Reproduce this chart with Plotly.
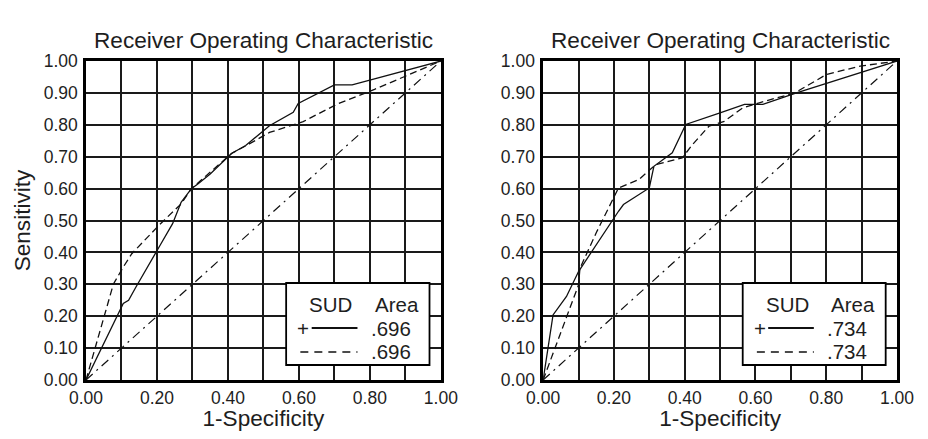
import plotly.graph_objects as go

# ---- data ----
left_solid_x = [0, 0.105, 0.12, 0.14, 0.206, 0.244, 0.268, 0.297, 0.316, 0.35, 0.41, 0.45, 0.517, 0.584, 0.598, 0.70, 0.75, 1.0]
left_solid_y = [0, 0.24, 0.25, 0.29, 0.417, 0.49, 0.557, 0.60, 0.615, 0.646, 0.71, 0.735, 0.797, 0.839, 0.867, 0.925, 0.925, 1.0]
left_dash_x = [0, 0.077, 0.105, 0.129, 0.21, 0.268, 0.297, 0.41, 0.46, 0.517, 0.612, 0.708, 0.813, 1.0]
left_dash_y = [0, 0.30, 0.354, 0.396, 0.49, 0.552, 0.60, 0.71, 0.74, 0.776, 0.81, 0.865, 0.911, 1.0]

right_solid_x = [0, 0.028, 0.066, 0.10, 0.213, 0.227, 0.30, 0.313, 0.365, 0.403, 0.502, 0.569, 0.621, 0.716, 1.0]
right_solid_y = [0, 0.204, 0.262, 0.34, 0.529, 0.55, 0.602, 0.67, 0.712, 0.801, 0.838, 0.864, 0.864, 0.90, 1.0]
right_dash_x = [0, 0.10, 0.104, 0.152, 0.213, 0.27, 0.318, 0.393, 0.422, 0.469, 0.512, 0.564, 0.611, 0.711, 0.801, 0.896, 1.0]
right_dash_y = [0, 0.298, 0.35, 0.466, 0.602, 0.628, 0.675, 0.696, 0.738, 0.796, 0.811, 0.853, 0.869, 0.90, 0.958, 0.984, 1.0]

ref_x = [0, 1]
ref_y = [0, 1]

area_labels = [".696", ".734"]
title_text = "Receiver Operating Characteristic"
x_title = "1-Specificity"
y_title = "Sensitivity"
y_ticks = [i / 10 for i in range(11)]
x_ticks = [i / 5 for i in range(6)]

FONT = "Liberation Sans, Arial, sans-serif"
INK = "#111111"
TXT = "#1e1e1e"

fig = go.Figure()

panels = [
    ("x", "y", left_solid_x, left_solid_y, left_dash_x, left_dash_y),
    ("x2", "y2", right_solid_x, right_solid_y, right_dash_x, right_dash_y),
]
for xa, ya, sx, sy, dx, dy in panels:
    fig.add_trace(go.Scatter(x=ref_x, y=ref_y, xaxis=xa, yaxis=ya, mode="lines",
                             line=dict(color=INK, width=1.2, dash="9px,5px,2px,5px"),
                             showlegend=False, hoverinfo="skip"))
    fig.add_trace(go.Scatter(x=dx, y=dy, xaxis=xa, yaxis=ya, mode="lines",
                             line=dict(color=INK, width=1.3, dash="7px,4px"),
                             showlegend=False))
    fig.add_trace(go.Scatter(x=sx, y=sy, xaxis=xa, yaxis=ya, mode="lines",
                             line=dict(color=INK, width=1.3),
                             showlegend=False))

axis_common = dict(range=[0, 1], showgrid=True, gridcolor="#1a1a1a", gridwidth=1.5,
                   showline=True, linecolor="#000000", linewidth=2.5, mirror=True,
                   zeroline=False, ticks="", tickformat=".2f", automargin=False,
                   tickfont=dict(family=FONT, size=17.5, color=TXT))

# figure is placed at an 8px body offset inside the 928x439 window
W, H = 912, 423
ml, mt = 78, 53
plot_right = 889.3
plot_bottom = 372
mr = W - plot_right
mb = H - plot_bottom
pw = W - ml - mr
ph = H - mt - mb

def px_to_paper_x(px):
    return (px - ml) / pw

def py_to_paper_y(py):
    return (H - mb - py) / ph

d1 = [0, px_to_paper_x(433)]
d2 = [px_to_paper_x(535.3), 1.0]

TS = 22.6
fig.update_layout(
    width=W, height=H,
    margin=dict(l=ml, r=mr, t=mt, b=mb, autoexpand=False),
    paper_bgcolor="#ffffff",
    plot_bgcolor="#ffffff",
    font=dict(family=FONT, color=TXT),
    xaxis=dict(domain=d1, tickvals=x_ticks, minor=dict(dtick=0.1, showgrid=True, gridcolor="#1a1a1a", gridwidth=1.5),
               title=dict(text=x_title, font=dict(size=TS), standoff=14), anchor="y", **axis_common),
    yaxis=dict(domain=[0, 1], tickvals=y_ticks, anchor="x", ticklabelstandoff=2,
               title=dict(text=y_title, font=dict(size=TS), standoff=7), **axis_common),
    xaxis2=dict(domain=d2, tickvals=x_ticks, minor=dict(dtick=0.1, showgrid=True, gridcolor="#1a1a1a", gridwidth=1.5),
                title=dict(text=x_title, font=dict(size=TS), standoff=14), anchor="y2", **axis_common),
    yaxis2=dict(domain=[0, 1], tickvals=y_ticks, anchor="x2", ticklabelstandoff=2, **axis_common),
)

shapes = []
annotations = []

for i, (xa, ya) in enumerate([("x", "y"), ("x2", "y2")]):
    dom = d1 if i == 0 else d2
    annotations.append(dict(text=title_text, xref="paper", yref="paper",
                            x=(dom[0] + dom[1]) / 2, y=py_to_paper_y(33), xanchor="center", yanchor="middle",
                            showarrow=False, font=dict(family=FONT, size=TS, color=TXT)))
    shapes.append(dict(type="rect", xref=xa, yref=ya, layer="above",
                       x0=0.564, x1=0.968, y0=0.047, y1=0.304,
                       fillcolor="#ffffff", line=dict(color="#000000", width=1.8)))
    shapes.append(dict(type="line", xref=xa, yref=ya, layer="above",
                       x0=0.636, x1=0.765, y0=0.163, y1=0.163,
                       line=dict(color=INK, width=1.8)))
    shapes.append(dict(type="line", xref=xa, yref=ya, layer="above",
                       x0=0.604, x1=0.765, y0=0.088, y1=0.088,
                       line=dict(color=INK, width=1.5, dash="8px,6px")))
    lf = dict(family=FONT, size=20.5, color=TXT)
    annotations += [
        dict(text="SUD", xref=xa, yref=ya, x=0.690, y=0.238, showarrow=False, xanchor="center", yanchor="middle", font=lf),
        dict(text="Area", xref=xa, yref=ya, x=0.877, y=0.238, showarrow=False, xanchor="center", yanchor="middle", font=lf),
        dict(text="+", xref=xa, yref=ya, x=0.612, y=0.163, showarrow=False, xanchor="center", yanchor="middle", font=lf),
        dict(text=area_labels[i], xref=xa, yref=ya, x=0.797, y=0.163, showarrow=False, xanchor="left", yanchor="middle", font=lf),
        dict(text=area_labels[i], xref=xa, yref=ya, x=0.797, y=0.088, showarrow=False, xanchor="left", yanchor="middle", font=lf),
    ]

fig.update_layout(shapes=shapes, annotations=annotations)
fig.write_html("out.html")
